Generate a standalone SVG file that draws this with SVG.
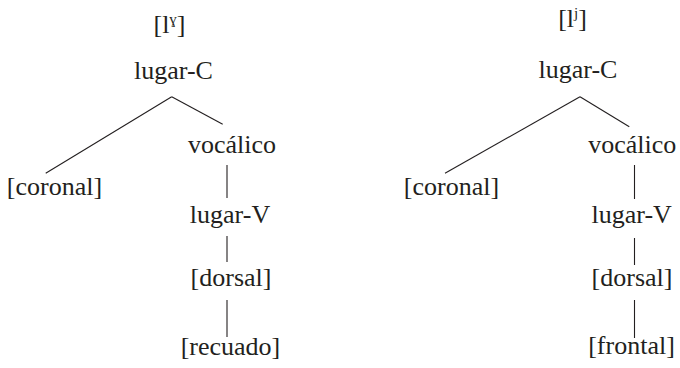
<svg xmlns="http://www.w3.org/2000/svg" width="680" height="368" viewBox="0 0 680 368">
<style>
.t{font-family:"Liberation Serif",serif;font-size:26px;fill:#231f20;text-anchor:middle}
.sup{font-size:15px}
line{stroke:#231f20;stroke-width:1.1;fill:none}
</style>
<rect width="680" height="368" fill="#fff"/>
<g id="connectors">
<line x1="171.7" y1="96.7" x2="45.7" y2="173.3"/>
<line x1="171.7" y1="96.7" x2="222.7" y2="124.3"/>
<line x1="227" y1="165" x2="227" y2="198"/>
<line x1="227" y1="236" x2="227" y2="262"/>
<line x1="227" y1="300" x2="227" y2="337"/>
<line x1="580" y1="96.7" x2="445" y2="173.3"/>
<line x1="580" y1="96.7" x2="629.3" y2="126.7"/>
<line x1="634.5" y1="165" x2="634.5" y2="199"/>
<line x1="634.5" y1="238" x2="634.5" y2="265"/>
<line x1="634.5" y1="300" x2="634.5" y2="338"/>
</g>
<g id="left-label"><text class="t" font-family="Liberation Serif" x="169.5" y="33">[l<tspan class="sup" dy="-9">ɣ</tspan><tspan dy="9">]</tspan></text></g>
<g id="left-lugarC"><text class="t" font-family="Liberation Serif" x="173.5" y="79">lugar-C</text></g>
<g id="left-coronal"><text class="t" font-family="Liberation Serif" x="54.5" y="195">[coronal]</text></g>
<g id="left-vocalico"><text class="t" font-family="Liberation Serif" x="232" y="153">vocálico</text></g>
<g id="left-lugarV"><text class="t" font-family="Liberation Serif" x="230" y="223">lugar-V</text></g>
<g id="left-dorsal"><text class="t" font-family="Liberation Serif" x="231" y="286">[dorsal]</text></g>
<g id="left-recuado"><text class="t" font-family="Liberation Serif" x="230.5" y="355">[recuado]</text></g>
<g id="right-label"><text class="t" font-family="Liberation Serif" x="572.5" y="27">[l<tspan class="sup" dy="-9">j</tspan><tspan dy="9">]</tspan></text></g>
<g id="right-lugarC"><text class="t" font-family="Liberation Serif" x="578" y="78">lugar-C</text></g>
<g id="right-coronal"><text class="t" font-family="Liberation Serif" x="451.5" y="195">[coronal]</text></g>
<g id="right-vocalico"><text class="t" font-family="Liberation Serif" x="632.3" y="153">vocálico</text></g>
<g id="right-lugarV"><text class="t" font-family="Liberation Serif" x="631.7" y="223">lugar-V</text></g>
<g id="right-dorsal"><text class="t" font-family="Liberation Serif" x="632" y="286">[dorsal]</text></g>
<g id="right-frontal"><text class="t" font-family="Liberation Serif" x="631.5" y="354">[frontal]</text></g>
</svg>
